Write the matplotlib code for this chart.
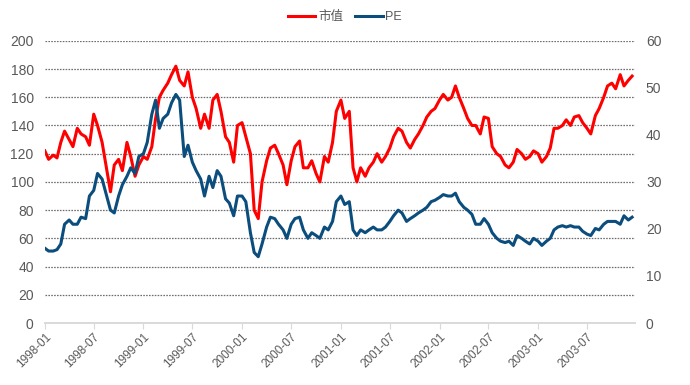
import pandas as pd
import numpy as np
import matplotlib.pyplot as plt
import matplotlib.dates as mdates

plt.rcParams['font.family'] = ['Liberation Sans', 'Noto Sans CJK SC', 'DejaVu Sans']

# 半月取样 (1998-01 ~ 2003-12)
fechas = pd.date_range('1998-01-01', periods=144, freq='SMS')

# 市值 (左轴)
shizhi = [
    122, 116, 119, 117, 128, 136, 130, 125, 138, 134, 132, 126, 148, 140, 128, 112, 93, 112, 116, 108, 128, 118, 104, 112, 118,
    116, 125, 145, 160, 165, 170, 176, 182, 172, 168, 178, 160, 152, 138, 148, 138, 158, 162, 150, 132, 128, 114, 140, 142,
    132, 120, 80, 74, 100, 115, 124, 126, 120, 112, 98, 115, 125, 129, 110, 110, 115, 106, 100, 118, 114, 128, 150, 158,
    145, 150, 110, 100, 110, 104, 110, 114, 120, 114, 118, 124, 132, 138, 136, 128, 124, 130, 134, 140, 146, 150, 152, 158,
    162, 158, 160, 168, 160, 152, 145, 140, 140, 134, 146, 145, 125, 120, 118, 112, 110, 114, 123, 120, 116, 118, 122, 120,
    114, 118, 124, 138, 138, 140, 144, 140, 146, 147, 142, 138, 134, 147, 152, 160, 168, 170, 166, 176, 168, 172, 175,
]

# PE (右轴)
pe = [
    15.9, 15.3, 15.3, 15.6, 16.8, 21.0, 21.9, 21.0, 21.0, 22.5, 22.2, 27.0, 28.2, 31.8, 30.6, 27.6, 24.0, 23.4, 27.0, 29.4, 31.2, 33.0, 31.8, 35.4, 36.0,
    38.4, 44.4, 47.4, 41.4, 43.5, 44.4, 46.8, 48.6, 47.4, 35.4, 37.8, 34.2, 32.4, 30.6, 27.0, 31.2, 28.8, 32.4, 31.2, 26.4, 25.5, 22.8, 27.0, 27.0,
    25.8, 19.2, 15.0, 14.1, 16.8, 20.4, 22.5, 22.2, 21.0, 19.8, 18.0, 21.0, 22.2, 22.5, 19.8, 18.0, 19.2, 18.6, 18.0, 20.4, 19.8, 21.6, 25.8, 27.0,
    25.2, 25.8, 19.8, 18.6, 19.8, 19.2, 19.8, 20.4, 19.8, 19.8, 20.4, 21.6, 22.8, 24.0, 23.4, 21.6, 22.2, 22.8, 23.4, 24.0, 24.6, 25.8, 26.1, 26.7,
    27.3, 27.0, 27.0, 27.6, 25.8, 24.6, 24.0, 23.1, 21.0, 21.0, 22.2, 21.0, 19.2, 18.0, 17.4, 17.1, 17.4, 16.5, 18.6, 18.0, 17.4, 16.8, 18.0, 17.4,
    16.5, 17.4, 18.0, 19.8, 20.4, 20.7, 20.4, 20.7, 20.4, 20.4, 19.5, 18.9, 18.6, 20.1, 19.8, 21.0, 21.6, 21.6, 21.6, 21.0, 22.8, 21.9, 22.5,
]

ticks_x = pd.date_range('1998-01-01', '2003-07-01', freq='6MS')

gris = '#595959'
fig = plt.figure(figsize=(6.9, 3.85), dpi=100)
ax1 = fig.add_axes([0.065, 0.161, 0.855, 0.733])
ax2 = ax1.twinx()

l1, = ax1.plot(fechas, shizhi, color='#FF0000', lw=2.2, label='市值')
l2, = ax2.plot(fechas, pe, color='#0B4D7C', lw=2.2, label='PE')

ax1.set_ylim(0, 200)
ax1.set_yticks(np.arange(0, 201, 20))
ax2.set_ylim(0, 60)
ax2.set_yticks(np.arange(0, 61, 10))
ax1.set_xlim(pd.Timestamp('1998-01-01'), pd.Timestamp('2003-12-25'))
ax1.set_xticks(ticks_x)
ax1.xaxis.set_major_formatter(mdates.DateFormatter('%Y-%m'))
for lab in ax1.get_xticklabels():
    lab.set_rotation(45)
    lab.set_ha('right')
    lab.set_rotation_mode('anchor')

# lineas de cuadricula punteadas
for v in range(20, 201, 20):
    ax1.axhline(v, color='#6E6E6E', lw=0.9, ls=(0, (1.3, 1)), zorder=0)

for ax in (ax1, ax2):
    for s in ['top', 'left', 'right']:
        ax.spines[s].set_visible(False)
    ax.spines['bottom'].set_color('#D9D9D9')
    ax.spines['bottom'].set_linewidth(1.2)
    ax.tick_params(axis='y', length=0, labelsize=10, labelcolor=gris, pad=8)
ax1.tick_params(axis='x', length=4, color='#D9D9D9', labelsize=8.5, labelcolor=gris, pad=2)

fig.legend(handles=[l1, l2], loc='upper center', bbox_to_anchor=(0.5, 1.0), ncol=2,
           frameon=False, fontsize=9, labelcolor=gris, handlelength=2.2,
           handletextpad=0.2, columnspacing=1.0)

plt.savefig('out.png', dpi=100)
